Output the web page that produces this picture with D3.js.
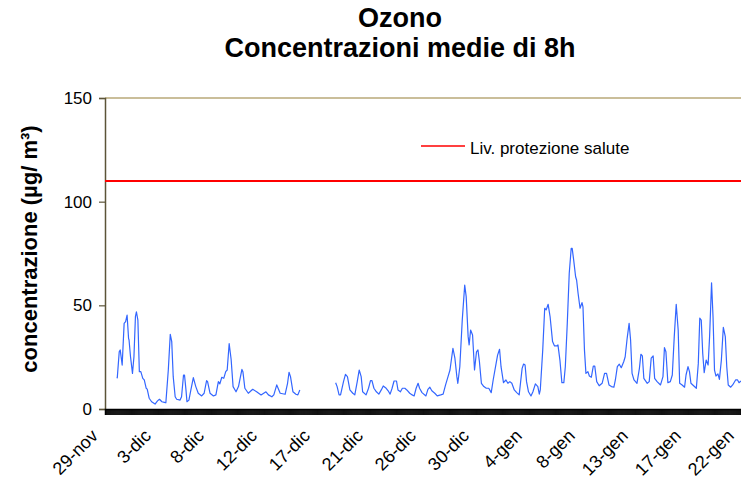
<!DOCTYPE html>
<html><head><meta charset="utf-8">
<script src="https://cdn.jsdelivr.net/npm/d3@7"></script>
<style>
html,body{margin:0;padding:0;background:#fff;}
svg{display:block;font-family:"Liberation Sans",Arial,sans-serif;}
</style></head>
<body>
<svg id="c" width="741" height="479"></svg>
<script>
// ---- data (hour offset from 29-nov 00:00, 8h mean ozone µg/m³) ----
const hours = [24,25,29,31,35,39,42,45,48,49,52,56,59,62,64,67,70,73,77,80,84,86,90,95,102,107,111,116,121,124,129,133,136,139,143,146,153,156,160,162,165,167,171,175,180,185,190,197,202,207,209,214,221,226,231,234,238,242,246,249,253,257,261,267,272,279,281,285,292,301,309,318,328,333,340,344,350,357,367,372,375,378,383,389,393,397,
430,
470,473,477,480,486,490,494,499,505,509,514,518,522,525,532,537,541,544,548,553,558,563,567,573,577,581,585,589,594,597,602,606,611,615,621,626,630,634,638,641,646,654,658,662,666,672,677,684,689,694,699,703,709,713,717,719,723,728,733,736,740,742,745,749,753,757,760,763,767,772,777,782,787,791,797,800,804,807,812,817,821,825,829,834,839,844,850,853,856,859,863,868,872,877,882,885,887,892,896,899,903,907,912,916,921,923,927,931,935,938,942,946,950,952,955,959,961,964,968,972,974,977,980,984,987,991,995,998,1002,1007,1013,1018,1022,1027,1032,1037,1040,1044,1048,1052,1057,1060,1064,1068,1071,1074,1078,1084,1089,1092,1095,1098,1105,1109,1113,1117,1120,1125,1132,1137,1140,1143,1147,1152,1156,1160,1164,1168,1171,1176,1181,1184,1188,1191,1194,1200,1205,1209,1212,1215,1218,1221,1225,1229,1232,1236,1239,1242,1245,1249,1252,1256,1260,1264,1267,1270,1275,1279,1285,1289,1292,1296];
const values = [15.3,15.0,27.6,28.5,21.2,41.3,42.1,45.3,34.1,33.3,25.2,17.2,25.2,44.5,46.9,42.9,18,18,14.8,14,10,9.6,5.2,3.5,2.4,3.9,4.7,3.5,3.2,3.0,18.8,36,32.5,15.6,5.9,4.7,4.3,5.9,16.4,16.4,9.2,3.5,4.3,9.2,15.1,10.8,7.6,6.3,7.6,13.7,13.2,7.6,6.3,6.8,13.2,12.1,15.3,14.8,18,18.8,31.5,24,10.8,8.3,10.8,19.1,18,10,7.6,9.5,8.3,6.8,8.3,6.8,5.9,6.8,11.6,7.6,7.1,12.4,17.7,15.6,8.3,7.1,6.8,9.2,
null,
12.7,10.8,6.8,6.8,13.2,16.7,15.6,9.2,7.6,6.8,13.2,18.8,15.6,8.3,6.8,10,13.7,13.7,10,8.3,7.2,9.2,11.1,10,8.8,7.2,10,13.5,13.5,9.2,8.3,10,10,9.2,7.6,6.8,6.3,10,12.4,10,7.9,6.3,9.5,10.5,8.8,7.6,6.3,6.8,7.2,11.6,15.6,18.8,29.3,24.5,15.6,12.4,20.4,42.9,59.8,54.2,34.9,30.9,38.1,35.7,18.8,27.6,28.5,22.8,12.4,10.8,10,10,7.9,14,22,26,28.8,20.4,12.7,14,12.4,13.2,12.4,9.2,7.9,6.8,19.6,21.7,21.2,13.2,8.3,6.3,8.3,12.1,10.8,7.2,9.2,28.5,48.6,47.8,50.5,44.5,32.5,30.4,30.4,30.9,23.6,12.7,12.7,20.4,41.3,65.5,77.5,77.5,71.9,63.8,62.2,55.8,48.6,51.3,49.3,28.5,17.2,18,15.9,15.3,20.7,20.7,13.2,11.2,12.4,17.2,17.2,11.6,10.8,10.5,14,20.4,21.6,19.9,22.8,25.2,34.1,41.3,33.3,17.2,14,12.4,19.6,26.4,25.6,14.8,12.4,13.2,24.5,25.6,14.8,13.2,11.6,15.6,29.6,27.6,12.7,13.2,16.4,34.9,50.5,38.1,12.4,11.6,10.5,16.4,20.4,18,12.4,11.1,10,22,43.8,42.9,26.9,17.5,23.6,21.2,34.9,60.9,44.5,18.8,15.9,16.9,14.3,23.6,39.4,34.9,20.4,11.6,10.5,11.6,14,14,12.7,13.5];
const xLabels = ["29-nov","3-dic","8-dic","12-dic","17-dic","21-dic","26-dic","30-dic","4-gen","8-gen","13-gen","17-gen","22-gen"];
const labelHours = [0,108,216,324,432,540,648,756,864,972,1080,1188,1296];
const yTicks = [0,50,100,150];
const threshold = 110;
const legendLabel = "Liv. protezione salute";
const titleLines = ["Ozono","Concentrazioni medie di 8h"];
const yTitle = "concentrazione (µg/ m³)";
const totalHours = 1296;

// ---- layout ----
const svg = d3.select("#c");
const L = 105, R = 741, T = 98, B = 409;
const x = d3.scaleLinear().domain([0, totalHours]).range([L, R]);
const y = d3.scaleLinear().domain([0, 150]).range([B, T]);

// titles
svg.selectAll("text.title").data(titleLines).join("text")
  .attr("class","title")
  .attr("x", 400).attr("y", (d,i)=> 27 + i*30)
  .attr("text-anchor","middle")
  .attr("font-weight","bold").attr("font-size", 27)
  .text(d=>d);

// top border line at 150
svg.append("line").attr("x1", L).attr("x2", R).attr("y1", y(150)).attr("y2", y(150))
  .attr("stroke","#b8a878").attr("stroke-width",1.3);

// y axis
const yAxis = d3.axisLeft(y).tickValues(yTicks).tickSize(6).tickPadding(7);
const gy = svg.append("g").attr("transform",`translate(${L},0)`).call(yAxis);
gy.select(".domain").attr("stroke","#5c5438").attr("stroke-width",1.5);
gy.selectAll(".tick line").attr("stroke","#5c5438").attr("stroke-width",1.2);
gy.selectAll(".tick text").attr("font-size",17).attr("fill","#000")
  .attr("font-family","Liberation Sans, Arial, sans-serif");

// x axis: hourly tick marks forming dense band
const hourTicks = d3.range(0, totalHours + 1);
const xAxis = d3.axisBottom(x).tickValues(hourTicks).tickSize(6).tickFormat("");
const gx = svg.append("g").attr("transform",`translate(0,${B})`).call(xAxis);
gx.select(".domain").attr("stroke","#000").attr("stroke-width",1.5);
gx.selectAll(".tick line").attr("stroke","#000").attr("stroke-width",0.8);

// x labels
svg.selectAll("text.xl").data(xLabels).join("text")
  .attr("class","xl")
  .attr("transform",(d,i)=>`translate(${x(labelHours[i]) - 6},${437}) rotate(-45)`)
  .attr("text-anchor","end")
  .attr("font-size",18)
  .text(d=>d);

// y title
svg.append("text")
  .attr("transform",`translate(37,${249}) rotate(-90)`)
  .attr("text-anchor","middle")
  .attr("font-weight","bold").attr("font-size",22)
  .text(yTitle);

// threshold line
svg.append("line").attr("x1", L).attr("x2", R).attr("y1", y(threshold)).attr("y2", y(threshold))
  .attr("stroke","#ff0000").attr("stroke-width",2);

// data line
const pts = hours.map((h,i)=>({h, v: values[i]}));
const line = d3.line().defined(d=>d.v!==null).x(d=>x(d.h)).y(d=>y(d.v));
svg.append("path").datum(pts).attr("d", line)
  .attr("fill","none").attr("stroke","#3366ff").attr("stroke-width",1.2)
  .attr("stroke-linejoin","round");

// legend
svg.append("line").attr("x1",421).attr("x2",465).attr("y1",146).attr("y2",146)
  .attr("stroke","#ff0000").attr("stroke-width",1.3);
svg.append("text").attr("x",470).attr("y",154).attr("font-size",17).text(legendLabel);
</script>
</body></html>
